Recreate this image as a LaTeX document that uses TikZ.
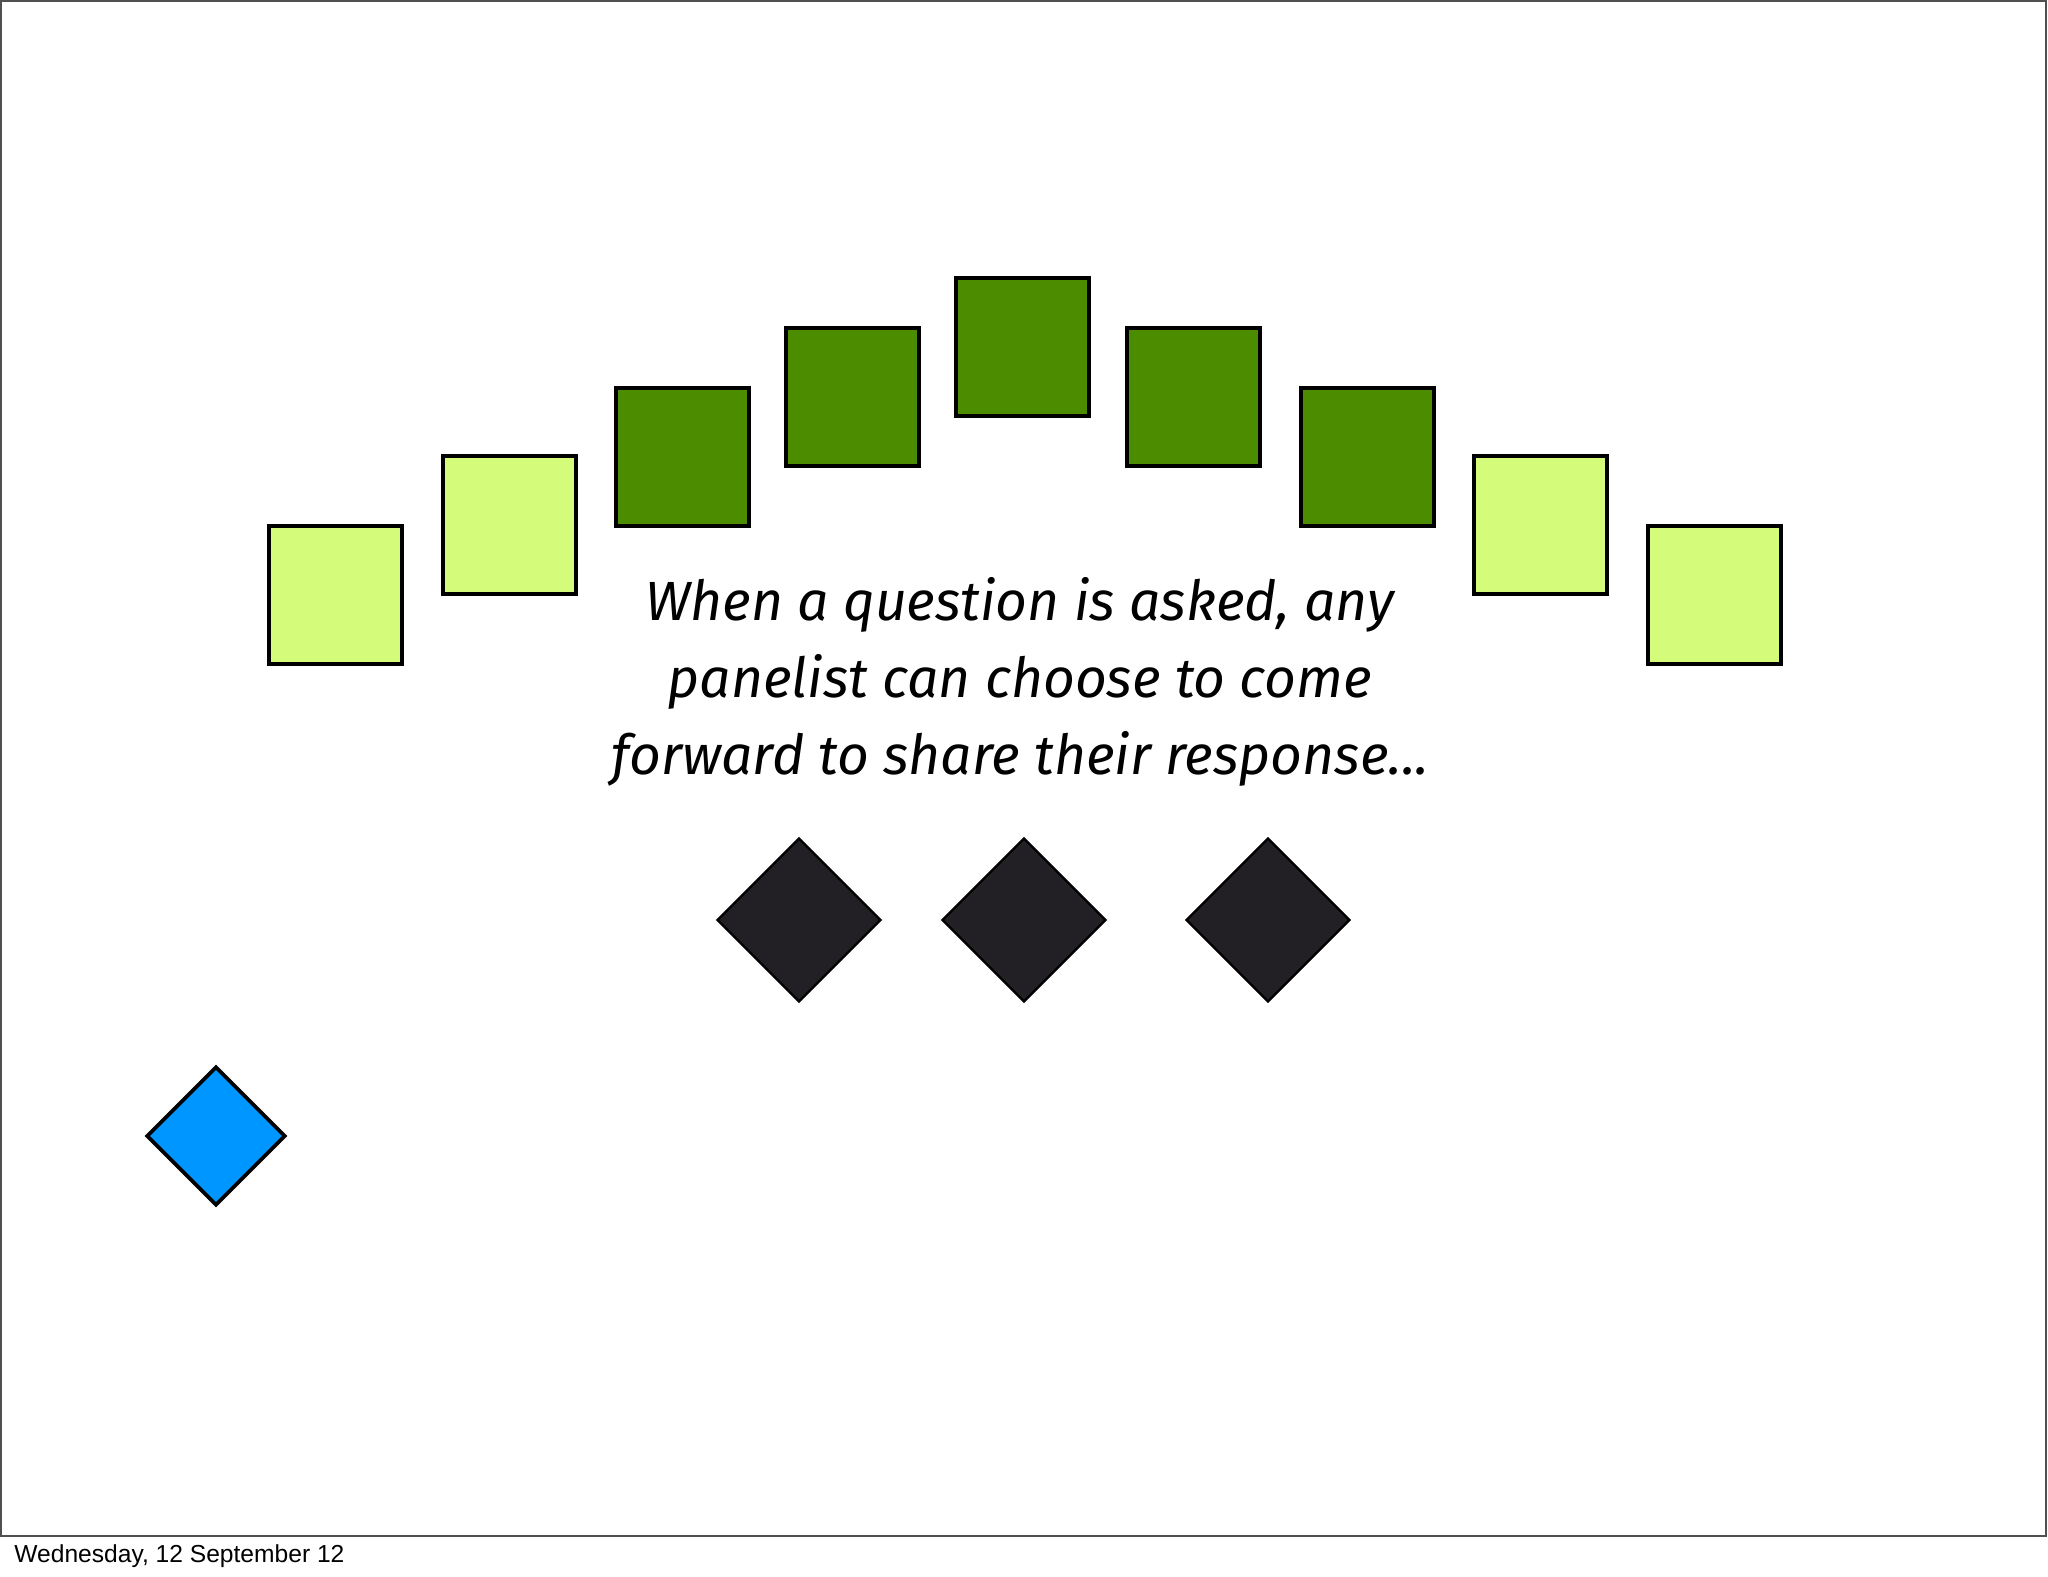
\documentclass[tikz,border=0pt]{standalone}
\usepackage{fontspec}
\setmainfont{Liberation Sans}
\newfontfamily\slidefont{Fira Sans}
\usetikzlibrary{shapes.geometric}
\definecolor{lightgreen}{RGB}{213,251,123}
\definecolor{darkgreen}{RGB}{76,140,0}
\definecolor{seatblue}{RGB}{0,150,255}
\definecolor{nearblack}{RGB}{34,32,36}
\definecolor{framegray}{RGB}{80,80,80}
\tikzset{
  panelsq/.style={draw=black, line width=2pt, minimum width=66.5pt, minimum height=68.8pt, inner sep=0pt},
  lightsq/.style={panelsq, fill=lightgreen},
  darksq/.style={panelsq, fill=darkgreen},
  speaker/.style={diamond, aspect=1, draw=black, line width=1.2pt, fill=nearblack, minimum size=82pt, inner sep=0pt},
  asker/.style={diamond, aspect=1, draw=black, line width=1.8pt, fill=seatblue, minimum size=69.5pt, inner sep=0pt}
}
\begin{document}
\begin{tikzpicture}[x=0.5pt, y=-0.5pt]
\useasboundingbox (0,0) rectangle (2048,1576);
\fill[white] (0,0) rectangle (2048,1576);
\draw[framegray, line width=1pt] (1,1) rectangle (2046,1536);
% panel
\foreach \n/\x/\y/\s in {1/335/595/lightsq, 2/509/525/lightsq, 3/682/457/darksq, 4/852/397/darksq, 5/1022/347/darksq, 6/1193/397/darksq, 7/1367/457/darksq, 8/1540/525/lightsq, 9/1714/595/lightsq}
  \node[\s] (panel\n) at (\x,\y) {};
\node[align=center, font=\slidefont\itshape\fontsize{27.6pt}{38.5pt}\selectfont] (prompt) at (1020,682) {When a question is asked, any\\panelist can choose to come\\forward to share their response...};
% people at the front
\node[speaker] (front1) at (799,920) {};
\node[speaker] (front2) at (1024,920) {};
\node[speaker] (front3) at (1268,920) {};
\node[asker] (asker) at (216,1136) {};
\node[anchor=base west, inner sep=0pt, font=\fontsize{12.3pt}{14pt}\selectfont] (date) at (14,1562) {Wednesday, 12 September 12};
\end{tikzpicture}
\end{document}
